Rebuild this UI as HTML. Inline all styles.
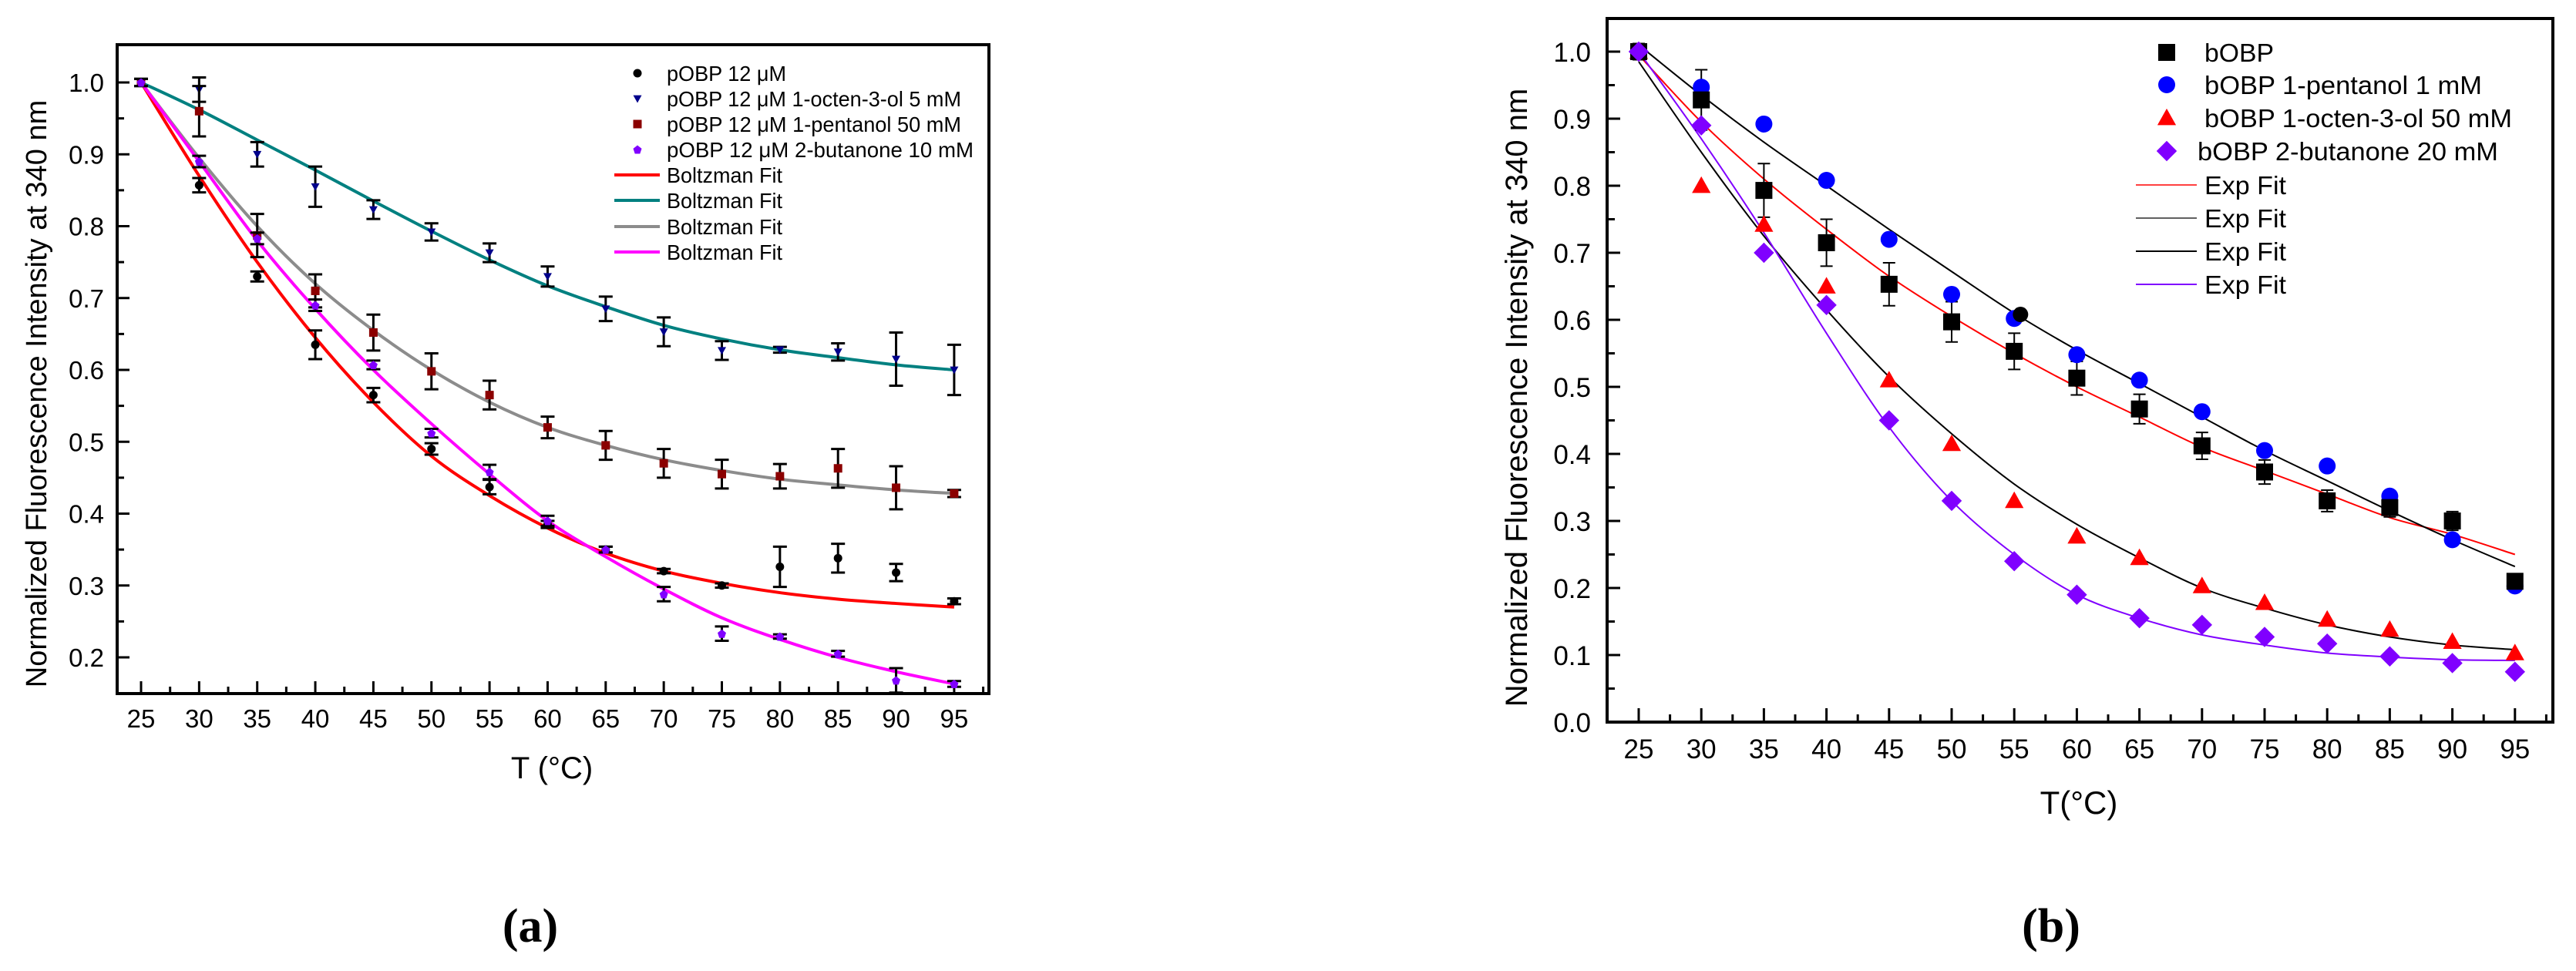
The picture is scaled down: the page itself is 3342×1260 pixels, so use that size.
<!DOCTYPE html>
<html><head><meta charset="utf-8">
<style>
html,body{margin:0;padding:0;background:#fff;}
svg{display:block;}
text{font-family:"Liberation Sans",sans-serif;fill:#000;}
</style></head>
<body>
<svg id="fig" width="3342" height="1260" viewBox="0 0 3342 1260" xmlns="http://www.w3.org/2000/svg">
<g id="pa"></g>
<g id="pb"></g>
<text x="688" y="1222" font-size="62" font-weight="bold" text-anchor="middle" style="font-family:'Liberation Serif',serif">(a)</text>
<text x="2661" y="1222" font-size="62" font-weight="bold" text-anchor="middle" style="font-family:'Liberation Serif',serif">(b)</text>
</svg>
<script>
// ---------- Panel A data ----------
const tempsA = [25,30,35,40,45,50,55,60,65,70,75,80,85,90,95];
const pobpA = [1.0,0.857,0.73,0.635,0.565,0.49,0.437,0.385,0.35,0.32,0.30,0.326,0.338,0.318,0.278];
const pobpErrA = [0.005,0.01,0.007,0.02,0.01,0.008,0.01,0.005,0.004,0.003,0.003,0.028,0.02,0.012,0.004];
const octenA = [1.0,0.99,0.90,0.855,0.823,0.792,0.763,0.73,0.685,0.653,0.627,0.628,0.625,0.615,0.60];
const octenErrA = [0.005,0.017,0.017,0.028,0.013,0.012,0.013,0.014,0.017,0.02,0.013,0.004,0.012,0.037,0.035];
const pentA = [1.0,0.96,0.787,0.71,0.652,0.598,0.565,0.52,0.495,0.47,0.455,0.452,0.463,0.436,0.428];
const pentErrA = [0.005,0.035,0.03,0.023,0.025,0.025,0.02,0.015,0.02,0.02,0.02,0.017,0.027,0.03,0.005];
const butA = [1.0,0.89,0.783,0.69,0.607,0.512,0.458,0.39,0.35,0.288,0.233,0.229,0.205,0.168,0.163];
const butErrA = [0.005,0.008,0.008,0.008,0.006,0.006,0.01,0.007,0.004,0.01,0.01,0.003,0.004,0.017,0.004];
const fitRedA = [1.0,0.87,0.75,0.645,0.555,0.48,0.425,0.38,0.345,0.32,0.303,0.29,0.281,0.275,0.27];
const fitTealA = [1.0,0.962,0.92,0.878,0.835,0.793,0.753,0.717,0.688,0.662,0.643,0.628,0.617,0.607,0.60];
const fitGrayA = [1.0,0.895,0.80,0.72,0.655,0.60,0.555,0.52,0.495,0.475,0.46,0.448,0.44,0.433,0.428];
const fitMagA = [1.0,0.89,0.78,0.685,0.60,0.525,0.455,0.39,0.34,0.295,0.255,0.225,0.2,0.18,0.163];
const yTicksA = [0.2,0.3,0.4,0.5,0.6,0.7,0.8,0.9,1.0];
const yTickLabelsA = ["0.2","0.3","0.4","0.5","0.6","0.7","0.8","0.9","1.0"];
const xTicks = [25,30,35,40,45,50,55,60,65,70,75,80,85,90,95];

// ---------- Panel B data ----------
const tempsB = [25,30,35,40,45,50,55,60,65,70,75,80,85,90,95];
const bobpB = [1.0,0.928,0.793,0.715,0.653,0.597,0.553,0.513,0.467,0.412,0.373,0.33,0.32,0.30,0.21];
const bobpErrB = [0.012,0.045,0.04,0.035,0.032,0.03,0.027,0.025,0.022,0.02,0.018,0.016,0.014,0.014,0.01];
const pentB = [1.0,0.947,0.892,0.808,0.72,0.638,0.602,0.548,0.51,0.463,0.405,0.382,0.337,0.272,0.203];
const octenB = [1.0,0.80,0.742,0.65,0.51,0.415,0.33,0.277,0.245,0.203,0.178,0.153,0.138,0.12,0.103];
const butB = [1.0,0.89,0.70,0.622,0.45,0.33,0.24,0.19,0.155,0.145,0.127,0.117,0.098,0.088,0.075];
const fitRedB = [0.995,0.895,0.81,0.735,0.665,0.605,0.55,0.5,0.455,0.41,0.375,0.34,0.305,0.28,0.25];
const fitBlackUpB = [1.01,0.935,0.865,0.80,0.735,0.672,0.61,0.555,0.505,0.455,0.405,0.36,0.315,0.272,0.232];
const fitBlackLoB = [0.985,0.85,0.725,0.615,0.515,0.43,0.355,0.295,0.245,0.2,0.17,0.145,0.127,0.115,0.108];
const fitPurpleB = [1.0,0.87,0.73,0.58,0.44,0.33,0.25,0.19,0.155,0.13,0.115,0.103,0.097,0.093,0.092];
const yTicksB = [0.0,0.1,0.2,0.3,0.4,0.5,0.6,0.7,0.8,0.9,1.0];
const yTickLabelsB = ["0.0","0.1","0.2","0.3","0.4","0.5","0.6","0.7","0.8","0.9","1.0"];
const extraPointB = [55.5, 0.608];

const NS = "http://www.w3.org/2000/svg";
function mk(parent, tag, attrs){
  const el = document.createElementNS(NS, tag);
  for (const k in attrs) el.setAttribute(k, attrs[k]);
  parent.appendChild(el);
  return el;
}
function smoothPath(pts){
  let d = "M" + pts[0][0] + "," + pts[0][1];
  for (let i=0;i<pts.length-1;i++){
    const p0=pts[Math.max(0,i-1)], p1=pts[i], p2=pts[i+1], p3=pts[Math.min(pts.length-1,i+2)];
    const c1x=p1[0]+(p2[0]-p0[0])/6, c1y=p1[1]+(p2[1]-p0[1])/6;
    const c2x=p2[0]-(p3[0]-p1[0])/6, c2y=p2[1]-(p3[1]-p1[1])/6;
    d += " C"+c1x+","+c1y+" "+c2x+","+c2y+" "+p2[0]+","+p2[1];
  }
  return d;
}
function marker(g, shape, cx, cy, r, color){
  let el;
  if (shape==="circle") el = mk(g,"circle",{cx:cx,cy:cy,r:r,fill:color});
  else if (shape==="square") el = mk(g,"rect",{x:cx-r,y:cy-r,width:2*r,height:2*r,fill:color});
  else if (shape==="tridown") el = mk(g,"polygon",{points:(cx-r)+","+(cy-r*0.8)+" "+(cx+r)+","+(cy-r*0.8)+" "+cx+","+(cy+r),fill:color});
  else if (shape==="triup") el = mk(g,"polygon",{points:(cx-r*1.1)+","+(cy+r*0.85)+" "+(cx+r*1.1)+","+(cy+r*0.85)+" "+cx+","+(cy-r*1.1),fill:color});
  else if (shape==="diamond") el = mk(g,"polygon",{points:cx+","+(cy-r*1.2)+" "+(cx+r*1.2)+","+cy+" "+cx+","+(cy+r*1.2)+" "+(cx-r*1.2)+","+cy,fill:color});
  else if (shape==="pent") el = mk(g,"polygon",{points:cx+","+(cy-r)+" "+(cx+r)+","+(cy-r*0.2)+" "+(cx+r*0.6)+","+(cy+r)+" "+(cx-r*0.6)+","+(cy+r)+" "+(cx-r)+","+(cy-r*0.2),fill:color});
  return el;
}

// ---------- Panel A ----------
(function(){
  const g = document.getElementById("pa");
  const L=152, R=1283, T=58, B=900;
  const X = t => 183 + (t-25)*15.07;
  const Y = v => 853 - (v-0.2)*932.5;
  const fr = mk(g,"rect",{x:L,y:T,width:R-L,height:B-T,fill:"none",stroke:"#000","stroke-width":4});
  
  
  yTicksA.forEach((v,i)=>{
    const tk = mk(g,"line",{x1:L,x2:L+16,y1:Y(v),y2:Y(v),stroke:"#000","stroke-width":3});
    
    
    const mt = mk(g,"line",{x1:L,x2:L+9,y1:Y(v-0.05),y2:Y(v-0.05),stroke:"#000","stroke-width":3});
    
    
    const lb = mk(g,"text",{x:135,y:Y(v)+12,"font-size":33,"text-anchor":"end"});
    lb.textContent = yTickLabelsA[i];
    
    
  });
  xTicks.forEach((t,i)=>{
    const tk = mk(g,"line",{x1:X(t),x2:X(t),y1:B,y2:B-16,stroke:"#000","stroke-width":3});
    
    
    const mt = mk(g,"line",{x1:X(t+2.5),x2:X(t+2.5),y1:B,y2:B-9,stroke:"#000","stroke-width":3});
    
    
    const lb = mk(g,"text",{x:X(t),y:944,"font-size":33,"text-anchor":"middle"});
    lb.textContent = String(t);
    
    
  });
  const yt = mk(g,"text",{x:0,y:0,"font-size":38,"text-anchor":"middle",transform:"translate(60,511) rotate(-90)"});
  yt.textContent = "Normalized Fluorescence Intensity at 340 nm";
  
  
  const xt = mk(g,"text",{x:716,y:1010,"font-size":40,"text-anchor":"middle"});
  xt.textContent = "T (°C)";
  
  

  const fits = [[fitRedA,"#ff0000","fit-red-a"],[fitTealA,"#008080","fit-teal-a"],[fitGrayA,"#8c8c8c","fit-gray-a"],[fitMagA,"#ff00ff","fit-magenta-a"]];
  fits.forEach(f=>{
    const p = mk(g,"path",{d:smoothPath(tempsA.map((t,i)=>[X(t),Y(f[0][i])])),fill:"none",stroke:f[1],"stroke-width":4});
    
    
  });
  const series = [
    [pobpA,pobpErrA,"circle","#000","pobp-point"],
    [octenA,octenErrA,"tridown","#00008b","octenol-point"],
    [pentA,pentErrA,"square","#8b0000","pentanol-point"],
    [butA,butErrA,"pent","#8000ff","butanone-point"]
  ];
  series.forEach(s=>{
    tempsA.forEach((t,i)=>{
      const x=X(t), y=Y(s[0][i]), e=s[1][i]*932.5;
      const eb = mk(g,"path",{d:"M"+x+","+(y-e)+"V"+(y+e)+"M"+(x-9)+","+(y-e)+"H"+(x+9)+"M"+(x-9)+","+(y+e)+"H"+(x+9),stroke:"#000","stroke-width":3,fill:"none"});
      
      
      const m = marker(g,s[2],x,y,5.5,s[3]);
      
      
    });
  });
  const lg = mk(g,"g",{});
  
  
  const names = ["pOBP 12 μM","pOBP 12 μM 1-octen-3-ol 5 mM","pOBP 12 μM 1-pentanol 50 mM","pOBP 12  μM 2-butanone 10 mM","Boltzman Fit","Boltzman Fit","Boltzman Fit","Boltzman Fit"];
  const widths = [155,382,382,398,150,150,150,150];
  const rows = [95,128,161,194,227,260,294,327];
  names.forEach((n,i)=>{
    const y=rows[i];
    if (i<4){
      const m = marker(lg,series[i][2],827,y,5.5,series[i][3]);
      
      
    } else {
      const ln = mk(lg,"line",{x1:797,x2:856,y1:y,y2:y,stroke:fits[i-4][1],"stroke-width":4});
      
      
    }
    const tx = mk(lg,"text",{x:865,y:y+10,"font-size":28,textLength:widths[i],lengthAdjust:"spacingAndGlyphs"});
    tx.textContent = n;
    
    
  });
})();

// ---------- Panel B ----------
(function(){
  const g = document.getElementById("pb");
  const L=2085, R=3312, T=24, B=937;
  const X = t => 2126 + (t-25)*16.24;
  const Y = v => 937 - v*870;
  const fr = mk(g,"rect",{x:L,y:T,width:R-L,height:B-T,fill:"none",stroke:"#000","stroke-width":4});
  
  
  yTicksB.forEach((v,i)=>{
    const tk = mk(g,"line",{x1:L,x2:L+17,y1:Y(v),y2:Y(v),stroke:"#000","stroke-width":3});
    
    
    if (v>0){
      const mt = mk(g,"line",{x1:L,x2:L+10,y1:Y(v-0.05),y2:Y(v-0.05),stroke:"#000","stroke-width":3});
      
      
    }
    const lb = mk(g,"text",{x:2064,y:Y(v)+13,"font-size":35,"text-anchor":"end"});
    lb.textContent = yTickLabelsB[i];
    
    
  });
  xTicks.forEach((t,i)=>{
    const tk = mk(g,"line",{x1:X(t),x2:X(t),y1:B,y2:B-18,stroke:"#000","stroke-width":3});
    
    
    const mt = mk(g,"line",{x1:X(t+2.5),x2:X(t+2.5),y1:B,y2:B-10,stroke:"#000","stroke-width":3});
    
    
    const lb = mk(g,"text",{x:X(t),y:984,"font-size":35,"text-anchor":"middle"});
    lb.textContent = String(t);
    
    
  });
  const yt = mk(g,"text",{x:0,y:0,"font-size":40,"text-anchor":"middle",transform:"translate(1981,516) rotate(-90)"});
  yt.textContent = "Normalized Fluorescence Intensity at 340 nm";
  
  
  const xt = mk(g,"text",{x:2697,y:1056,"font-size":42,"text-anchor":"middle"});
  xt.textContent = "T(°C)";
  
  

  const fits = [[fitRedB,"#ff0000","fit-red-b"],[fitBlackUpB,"#000","fit-black-upper-b"],[fitBlackLoB,"#000","fit-black-lower-b"],[fitPurpleB,"#8000ff","fit-purple-b"]];
  fits.forEach(f=>{
    const p = mk(g,"path",{d:smoothPath(tempsB.map((t,i)=>[X(t),Y(f[0][i])])),fill:"none",stroke:f[1],"stroke-width":2});
    
    
  });
  tempsB.forEach((t,i)=>{
    const x=X(t), y=Y(bobpB[i]), e=bobpErrB[i]*870;
    const eb = mk(g,"path",{d:"M"+x+","+(y-e)+"V"+(y+e)+"M"+(x-8)+","+(y-e)+"H"+(x+8)+"M"+(x-8)+","+(y+e)+"H"+(x+8),stroke:"#000","stroke-width":2,fill:"none"});
    
    
  });
  const series = [
    [octenB,"triup","#ff0000","octenol-point-b"],
    [pentB,"circle","#0000ff","pentanol-point-b"],
    [bobpB,"square","#000","bobp-point-b"],
    [butB,"diamond","#8000ff","butanone-point-b"]
  ];
  series.forEach(s=>{
    tempsB.forEach((t,i)=>{
      const m = marker(g,s[1],X(t),Y(s[0][i]),11,s[2]);
      
      
    });
  });
  const ex = marker(g,"circle",X(extraPointB[0]),Y(extraPointB[1]),10,"#000");
  
  

  const lg = mk(g,"g",{});
  
  
  const names = ["bOBP","bOBP 1-pentanol 1 mM","bOBP 1-octen-3-ol 50 mM","bOBP 2-butanone 20 mM","Exp Fit","Exp Fit","Exp Fit","Exp Fit"];
  const widths = [90,360,399,390,106,106,106,106];
  const rows = [68,110,153,196,240,283,326,369];
  const legSym = [["square","#000"],["circle","#0000ff"],["triup","#ff0000"],["diamond","#8000ff"]];
  const legLines = [["#ff0000",1.5],["#000",1.2],["#000",2],["#8000ff",2]];
  names.forEach((n,i)=>{
    const y=rows[i];
    if (i<4){
      const m = marker(lg,legSym[i][0],2811,y,11,legSym[i][1]);
      
      
    } else {
      const ln = mk(lg,"line",{x1:2771,x2:2850,y1:y,y2:y,stroke:legLines[i-4][0],"stroke-width":legLines[i-4][1]});
      
      
    }
    const tx = mk(lg,"text",{x:(i===3?2851:2860),y:y+12,"font-size":33,textLength:widths[i],lengthAdjust:"spacingAndGlyphs"});
    tx.textContent = n;
    
    
  });
})();
</script>
</body></html>
